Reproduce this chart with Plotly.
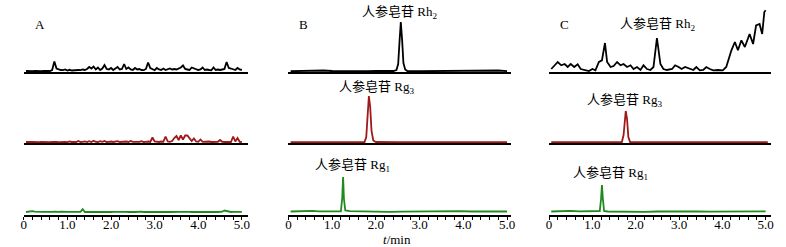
import numpy as np
import plotly.graph_objects as go

W, H = 786, 247

# ---------------- data (relative detector response, arbitrary units) ----------------
# sampling grid of the digitised blank (panel A) chromatograms, min
t_blank = np.round(np.arange(1, 101) * 0.05, 2)

a_rh2 = [1.0, 0.8, 1.0, 0.9, 1.0, 0.8, 1.0, 0.9, 1.0, 1.0,
         0.9, 1.0, 2.0, 10.5, 3.5, 2.5, 2.0, 1.8, 2.5, 1.5,
         2.2, 1.5, 1.8, 1.5, 2.0, 1.8, 2.5, 2.0, 3.0, 5.0,
         3.5, 5.5, 2.5, 4.5, 2.0, 3.5, 7.0, 3.0, 2.5, 4.0,
         2.0, 3.5, 5.0, 2.5, 3.0, 8.0, 3.0, 4.5, 2.5, 2.0,
         4.0, 2.5, 3.0, 2.0, 1.8, 3.0, 9.5, 4.0, 2.5, 1.8,
         4.0, 2.5, 2.0, 3.5, 2.0, 2.5, 3.5, 2.5, 3.0, 2.5,
         3.5, 4.5, 6.5, 3.0, 2.5, 2.0, 4.5, 3.5, 2.5, 2.0,
         2.5, 4.5, 2.0, 2.5, 2.0, 1.8, 4.5, 2.0, 2.5, 2.0,
         2.5, 3.0, 10.0, 4.0, 3.5, 2.5, 2.0, 4.0, 2.5, 2.0]
a_rg3 = [1.0, 0.8, 1.0, 1.2, 0.9, 1.0, 0.8, 1.1, 0.9, 1.0,
         1.2, 0.9, 1.0, 1.3, 1.0, 0.9, 1.2, 1.0, 1.1, 0.9,
         1.5, 1.0, 1.2, 1.0, 2.0, 1.0, 1.2, 1.6, 1.0, 1.8,
         1.0, 2.2, 1.2, 1.0, 1.8, 1.1, 2.0, 1.0, 1.2, 1.5,
         1.0, 1.3, 1.8, 1.0, 1.2, 1.0, 1.5, 1.0, 2.0, 1.2,
         1.0, 1.4, 1.1, 1.8, 1.0, 1.2, 1.5, 1.0, 5.5, 1.5,
         1.2, 1.0, 1.5, 1.3, 6.5, 1.5, 1.2, 2.0, 5.0, 7.0,
         3.0, 7.5, 3.5, 7.5, 7.5, 5.0, 2.0, 4.5, 1.5, 1.2,
         3.5, 1.2, 1.5, 1.2, 1.5, 1.0, 1.2, 1.0, 1.2, 3.0,
         1.2, 1.0, 1.3, 1.2, 1.0, 6.5, 1.5, 5.0, 1.2, 1.0]
a_rg1 = [1.0, 1.3, 1.5, 1.8, 1.4, 1.2, 1.0, 1.3, 1.1, 1.2,
         1.0, 1.2, 1.1, 1.3, 1.0, 1.2, 1.4, 1.1, 1.0, 1.2,
         1.1, 1.0, 1.2, 1.3, 1.0, 1.2, 3.8, 1.0, 1.1, 1.0,
         1.2, 1.0, 1.3, 1.1, 1.0, 1.2, 1.0, 1.1, 1.3, 1.0,
         1.1, 1.2, 1.0, 1.4, 1.1, 1.0, 1.2, 1.0, 1.3, 1.1,
         1.0, 1.2, 1.1, 1.3, 1.0, 1.2, 1.4, 1.1, 1.0, 1.2,
         1.1, 1.0, 1.2, 1.0, 1.3, 1.1, 1.0, 1.2, 1.1, 1.0,
         1.2, 1.1, 1.3, 1.0, 1.1, 1.2, 1.0, 1.3, 1.1, 1.0,
         1.1, 1.2, 1.0, 1.1, 1.3, 1.0, 1.2, 1.1, 1.0, 1.2,
         1.3, 2.5, 1.8, 1.2, 1.0, 1.1, 1.0, 1.2, 1.0, 1.1]

# panel B (standards)
b_rh2_t = [0.05, 0.3, 0.5, 0.8, 1.0, 1.2, 1.5, 1.8, 2.0, 2.2, 2.4, 2.47, 2.51, 2.54,
           2.57, 2.60, 2.63, 2.67, 2.72, 3.0, 3.4, 3.8, 4.2, 4.6, 4.8, 5.0]
b_rh2_v = [0.8, 1.2, 0.8, 1.5, 1.0, 0.8, 1.0, 0.9, 1.2, 0.8, 1.0, 2.0, 8.0, 30.0,
           50.0, 32.0, 9.0, 2.5, 1.0, 0.8, 1.0, 0.8, 1.0, 0.9, 1.5, 0.9]
b_rg3_t = [0.05, 0.5, 1.0, 1.5, 1.74, 1.78, 1.81, 1.84, 1.87, 1.90, 1.94, 2.0, 2.5,
           3.0, 4.0, 5.0]
b_rg3_v = [0.8, 0.8, 0.8, 0.8, 1.0, 6.0, 30.0, 47.0, 36.0, 12.0, 2.5, 1.0, 0.8,
           0.8, 0.8, 0.8]
b_rg1_t = [0.05, 0.2, 0.4, 0.55, 0.7, 0.9, 1.1, 1.2, 1.23, 1.25, 1.27, 1.30, 1.4,
           1.6, 1.8, 2.0, 2.3, 2.6, 2.9, 3.2, 3.5, 3.7, 3.9, 4.2, 4.5, 4.8, 5.0]
b_rg1_v = [1.5, 1.8, 1.5, 2.2, 1.6, 1.8, 1.5, 1.6, 15.0, 36.0, 14.0, 2.5, 1.8,
           1.5, 1.3, 1.5, 1.2, 1.4, 1.5, 1.6, 1.8, 2.2, 1.8, 1.5, 1.6, 1.4, 1.5]

# panel C (sample)
c_rh2_t = [0.05, 0.09, 0.20, 0.28, 0.36, 0.43, 0.50, 0.58, 0.66, 0.73, 0.81, 0.92,
           1.00, 1.07, 1.15, 1.22, 1.29, 1.34, 1.42, 1.49, 1.57, 1.65, 1.72, 1.80,
           1.88, 1.95, 2.03, 2.11, 2.18, 2.26, 2.34, 2.41, 2.49, 2.57, 2.64, 2.72,
           2.84, 2.91, 2.99, 3.06, 3.14, 3.25, 3.33, 3.40, 3.48, 3.56, 3.63, 3.71,
           3.79, 3.90, 4.01, 4.09, 4.16, 4.21, 4.29, 4.36, 4.44, 4.52, 4.63, 4.71,
           4.78, 4.86, 4.92, 4.97, 5.00]
c_rh2_v = [3.0, 5.0, 10.0, 6.7, 8.0, 5.0, 8.0, 5.0, 7.7, 3.0, 2.0, 1.0,
           3.0, 1.7, 10.0, 11.7, 29.0, 10.0, 5.0, 6.0, 10.0, 6.7, 8.0, 5.0,
           6.7, 3.0, 5.0, 2.0, 6.7, 3.0, 2.0, 5.0, 34.0, 8.0, 3.0, 2.0,
           3.0, 6.7, 5.0, 3.0, 5.0, 3.0, 2.0, 5.0, 1.7, 2.0, 5.0, 3.0,
           1.7, 2.0, 1.7, 5.0, 15.0, 21.7, 30.0, 21.7, 31.7, 25.0, 38.0, 28.0,
           46.7, 48.0, 38.0, 60.0, 61.7]
c_rg3_t = [0.05, 0.5, 1.0, 1.5, 1.68, 1.72, 1.75, 1.77, 1.80, 1.83, 1.87, 2.0, 3.0,
           4.0, 5.05]
c_rg3_v = [0.8, 0.8, 0.8, 0.8, 1.0, 8.0, 26.0, 32.0, 24.0, 6.0, 1.0, 0.8, 0.8,
           0.8, 0.8]
c_rg1_t = [0.05, 0.3, 0.5, 0.7, 0.9, 1.1, 1.17, 1.20, 1.22, 1.24, 1.27, 1.35, 1.6,
           1.9, 2.2, 2.5, 2.8, 3.1, 3.4, 3.7, 4.0, 4.3, 4.6, 4.9, 5.0]
c_rg1_v = [1.5, 1.8, 2.2, 1.6, 1.5, 1.6, 2.0, 14.0, 28.0, 15.0, 2.0, 1.5, 1.3,
           1.6, 1.2, 1.5, 1.8, 1.4, 1.7, 1.4, 1.6, 1.8, 1.5, 1.7, 1.6]

panel_letters = ["A", "B", "C"]
tick_vals = [0, 1, 2, 3, 4, 5]
tick_text = ["0", "1.0", "2.0", "3.0", "4.0", "5.0"]
compound_labels = ["人参皂苷 Rh<sub>2</sub>", "人参皂苷 Rg<sub>3</sub>", "人参皂苷 Rg<sub>1</sub>"]
x_title = "<i>t</i>/min"

# ---------------- layout helpers ----------------
colors = ["#000000", "#a01818", "#1f8a1f"]
SERIF = "Liberation Serif, Noto Sans CJK SC, serif"

def fx(p):
    return p / W

def fy(p):
    return 1 - p / H

panel_px = [(21, 247, 5.136), (288, 513, 5.10), (551, 775, 5.126)]
row_bottom = [72, 143, 215]
row_range = [(0, 70), (0, 70), (-2, 68)]

series = [
    [(t_blank, a_rh2), (t_blank, a_rg3), (t_blank, a_rg1)],
    [(b_rh2_t, b_rh2_v), (b_rg3_t, b_rg3_v), (b_rg1_t, b_rg1_v)],
    [(c_rh2_t, c_rh2_v), (c_rg3_t, c_rg3_v), (c_rg1_t, c_rg1_v)],
]

fig = go.Figure()
layout = dict(
    width=W, height=H, margin=dict(l=0, r=0, t=0, b=0),
    paper_bgcolor="white", plot_bgcolor="rgba(0,0,0,0)", showlegend=False,
)

for p in range(3):
    x0, x1, xmax = panel_px[p]
    for r in range(3):
        k = r * 3 + p + 1
        xa = "xaxis" if k == 1 else f"xaxis{k}"
        ya = "yaxis" if k == 1 else f"yaxis{k}"
        xref = "x" if k == 1 else f"x{k}"
        yref = "y" if k == 1 else f"y{k}"
        bottom = row_bottom[r]
        xdict = dict(
            domain=[fx(x0), fx(x1)], range=[0, xmax], anchor=yref,
            showline=True, linecolor="black", linewidth=2, showgrid=False,
            zeroline=False, layer="below traces", fixedrange=True,
        )
        if r == 2:
            xdict.update(
                ticks="outside", ticklen=3, tickwidth=1, tickcolor="black",
                tickvals=tick_vals, ticktext=tick_text, ticklabelstandoff=-7,
                tickfont=dict(family="Liberation Serif", size=13, color="black"),
                minor=dict(ticks="outside", ticklen=2.5, tickwidth=1,
                           tickcolor="black", dtick=0.2, tick0=0, showgrid=False),
            )
        else:
            xdict.update(showticklabels=False, ticks="")
        layout[xa] = xdict
        layout[ya] = dict(
            domain=[fy(bottom), fy(bottom - 70)], range=list(row_range[r]),
            anchor=xref, visible=False, fixedrange=True,
        )
        t, v = series[p][r]
        fig.add_trace(go.Scatter(
            x=list(t), y=v, mode="lines", xaxis=xref, yaxis=yref,
            line=dict(color=colors[r], width=1.8), hoverinfo="skip",
        ))

fig.update_layout(**layout)

ann = []
letter_pos = [(37, 25), (303, 24), (567, 24)]
for (lx, ly), letter in zip(letter_pos, panel_letters):
    ann.append(dict(x=fx(lx), y=fy(ly), text=letter))
label_pos = {
    (1, 0): (400, 13), (1, 1): (377, 87), (1, 2): (353, 165),
    (2, 0): (660, 24), (2, 1): (627, 100), (2, 2): (613, 173),
}
for (p, r), (lx, ly) in label_pos.items():
    ann.append(dict(x=fx(lx), y=fy(ly), text=compound_labels[r]))
ann.append(dict(x=fx(398), y=fy(239), text=x_title))
for a in ann:
    a.update(xref="paper", yref="paper", xanchor="center", yanchor="middle",
             showarrow=False, font=dict(family=SERIF, size=13, color="black"))
fig.update_layout(annotations=ann)

fig.write_html("out.html")
